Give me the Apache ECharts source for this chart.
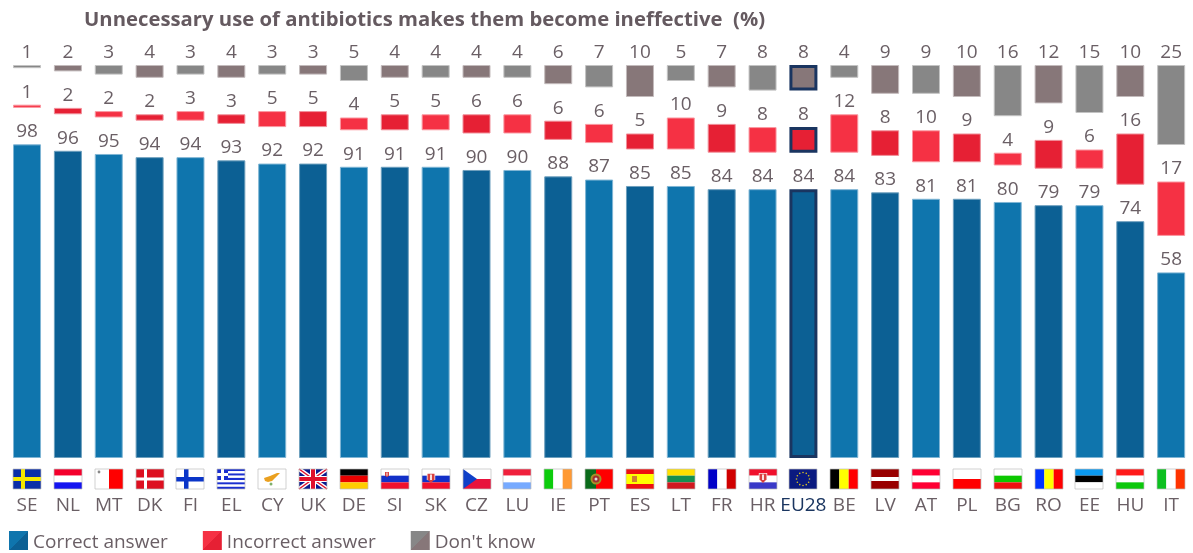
<!DOCTYPE html>
<html><head><meta charset="utf-8">
<style>html,body{margin:0;padding:0;background:#fff}#c{width:1193px;height:553px}</style>
<script src="https://cdn.jsdelivr.net/npm/echarts@6/dist/echarts.min.js"></script>
</head><body><div id="c"></div>
<script>
const categories=['SE','NL','MT','DK','FI','EL','CY','UK','DE','SI','SK','CZ','LU','IE','PT','ES','LT','FR','HR','EU28','BE','LV','AT','PL','BG','RO','EE','HU','IT'];
const correct=[98,96,95,94,94,93,92,92,91,91,91,90,90,88,87,85,85,84,84,84,84,83,81,81,80,79,79,74,58];
const incorrect=[1,2,2,2,3,3,5,5,4,5,5,6,6,6,6,5,10,9,8,8,12,8,10,9,4,9,6,16,17];
const dontKnow=[1,2,3,4,3,4,3,3,5,4,4,4,4,6,7,10,5,7,8,8,4,9,9,10,16,12,15,10,25];
const seriesNames=['Correct answer','Incorrect answer',"Don't know"];
const title='Unnecessary use of antibiotics makes them become ineffective  (%)';

const FONT='"Open Sans","Noto Sans",sans-serif', TXT='#6a5f65', NAVY='#1a3560';
const GAP=11.4;
const PAL=[['#0f75ad','#0c6094','#7fb5d4','#6d9fbd'],['#f53144','#e62034','#fa98a1','#f08f99'],['#878787','#877779','#c3c3c3','#c3bbbc']];
const W=28,HH=20;
const rect=(x,y,w,h,fill)=>({type:'rect',shape:{x,y,width:w,height:h},style:{fill}});
const H=(...c)=>c.map((f,i)=>rect(0,i*HH/c.length,W,HH/c.length,f));
const V=(...c)=>c.map((f,i)=>rect(i*W/c.length,0,W/c.length,HH,f));
const dot=(x,y,r,fill)=>({type:'circle',shape:{cx:x,cy:y,r},style:{fill}});
const ln=(x1,y1,x2,y2,stroke,lineWidth)=>({type:'line',shape:{x1,y1,x2,y2},style:{stroke,lineWidth}});
const poly=(points,fill)=>({type:'polygon',shape:{points},style:{fill}});
const crest=(x,y,s)=>[rect(x-3*s,y-3.5*s,6*s,5*s,'#fff'),poly([[x-2.5*s,y-3*s],[x+2.5*s,y-3*s],[x+2.5*s,y+1*s],[x,y+3.5*s],[x-2.5*s,y+1*s]],'#d8403f'),rect(x-.6*s,y-2.5*s,1.2*s,4*s,'#fff')];
const stars=()=>{const o=[rect(0,0,W,HH,'#0a1a80')];for(let k=0;k<12;k++){const a=k*Math.PI/6;o.push(dot(14+6.5*Math.cos(a),10+6.5*Math.sin(a),.8,'#d8c020'));}return o;};
const flags={
 SE:[rect(0,0,W,HH,'#0b2fa8'),rect(8,0,4,HH,'#f5e800'),rect(0,8,W,4,'#f5e800')],
 NL:H('#f4002c','#ffffff','#1414f0'),
 MT:[...V('#ffffff','#ff0000'),dot(4,3,1.4,'#888888')],
 DK:[rect(0,0,W,HH,'#dd1020'),rect(8,0,3,HH,'#fff'),rect(0,8.5,W,3,'#fff')],
 FI:[rect(0,0,W,HH,'#fff'),rect(8,0,4.5,HH,'#0a35c8'),rect(0,8,W,4.5,'#0a35c8')],
 EL:[...H('#1a2fd0','#fff','#1a2fd0','#fff','#1a2fd0','#fff','#1a2fd0','#fff','#1a2fd0'),rect(0,0,11,11,'#1a2fd0'),rect(4,0,3,11,'#fff'),rect(0,4,11,3,'#fff')],
 CY:[rect(0,0,W,HH,'#fff'),poly([[6,9],[12,7],[19,4],[22,4],[17,9],[14,12],[10,13],[7,12]],'#eaa020'),dot(13,15,1.5,'#7fb06a')],
 UK:[rect(0,0,W,HH,'#0a1a8e'),ln(0,0,W,HH,'#fff',4),ln(W,0,0,HH,'#fff',4),ln(0,0,W,HH,'#e0102c',1.5),ln(W,0,0,HH,'#e0102c',1.5),rect(11,0,6,HH,'#fff'),rect(0,7,W,6,'#fff'),rect(12,0,4,HH,'#e0102c'),rect(0,8,W,4,'#e0102c')],
 DE:H('#000000','#e80000','#ffcc00'),
 SI:[...H('#ffffff','#1230c8','#f0102c'),...crest(6,5.5,.8)],
 SK:[...H('#ffffff','#1230c8','#f0102c'),...crest(9,9,1.4)],
 CZ:[...H('#ffffff','#e8123c'),poly([[0,0],[14,10],[0,20]],'#1040c8')],
 LU:H('#f0203c','#ffffff','#77aaff'),
 IE:V('#0ccc0c','#ffffff','#ff9933'),
 PT:[rect(0,0,W,HH,'#ff0000'),rect(0,0,11,HH,'#0a6a1a'),dot(11,10,5.5,'#a89028'),dot(11,10,3.5,'#a03030'),dot(11,10,1.5,'#dddddd')],
 ES:[rect(0,0,W,HH,'#ee1010'),rect(0,5,W,10,'#ffff00'),rect(6,7,5,6,'#d08030')],
 LT:H('#ffe000','#159050','#d01820'),
 FR:V('#0000c8','#ffffff','#d00000'),
 HR:[...H('#f0102c','#ffffff','#3a3ac8'),...crest(14,9,1.4)],
 EU28:stars(),
 BE:V('#000000','#ffff00','#ff0000'),
 LV:[rect(0,0,W,HH,'#990000'),rect(0,8,W,4,'#fff')],
 AT:H('#ff0033','#ffffff','#ff0033'),
 PL:H('#ffffff','#ff0000'),
 BG:H('#ffffff','#0cc800','#ee1010'),
 RO:V('#0033ff','#ffff00','#ff0000'),
 EE:H('#0a99f0','#000000','#ffffff'),
 HU:H('#ff1a1a','#ffffff','#0cc80c'),
 IT:V('#0cc020','#ffffff','#ff3300')
};
const barData=(vals,p)=>vals.map((v,i)=>{
  const eu=categories[i]==='EU28';
  return {value:v,itemStyle:{color:PAL[p][i%2],borderColor:eu?NAVY:PAL[p][2+i%2],borderWidth:eu?3:1}};
});
const labelCfg=()=>({show:true,position:'top',distance:3,fontFamily:FONT,fontSize:19,color:TXT});
const barS=(name,vals,p)=>({name,type:'bar',stack:'s',barWidth:28,data:barData(vals,p),label:labelCfg(),silent:true});
const spacer=()=>({type:'bar',stack:'s',barWidth:28,data:categories.map(()=>GAP),itemStyle:{color:'transparent'},silent:true});
const legendIcon=p=>({color:{type:'linear',x:0,y:0,x2:1,y2:1,colorStops:[{offset:0,color:PAL[p][0]},{offset:.5,color:PAL[p][0]},{offset:.5,color:PAL[p][1]},{offset:1,color:PAL[p][1]}]},borderWidth:0});

const chart=echarts.init(document.getElementById('c'),null,{renderer:'canvas'});
chart.setOption({
  animation:false,backgroundColor:'#fff',
  title:{text:title,left:84,top:10,padding:0,textStyle:{fontFamily:FONT,fontWeight:'bold',fontSize:20.3,color:'#655a60'}},
  grid:{left:6.6,top:65,width:1185,height:393,containLabel:false},
  legend:{left:9,top:531,icon:'rect',selectedMode:false,itemWidth:19,itemHeight:19,itemGap:35,padding:0,
    formatter:n=>'{t|'+n+'}',
    textStyle:{fontFamily:FONT,fontSize:19,color:TXT,rich:{t:{fontFamily:FONT,fontSize:19,color:TXT,padding:[4,0,0,0]}}},
    data:seriesNames.map((n,p)=>({name:n,itemStyle:legendIcon(p)}))},
  xAxis:{type:'category',data:categories,axisLine:{show:false},axisTick:{show:false},
    axisLabel:{interval:0,margin:38,fontFamily:FONT,fontSize:19,color:v=>v==='EU28'?NAVY:TXT}},
  yAxis:{type:'value',min:0,max:100+2*GAP,show:false,splitLine:{show:false}},
  series:[
    barS(seriesNames[0],correct,0),spacer(),
    barS(seriesNames[1],incorrect,1),spacer(),
    barS(seriesNames[2],dontKnow,2),
    {type:'custom',silent:true,clip:false,data:categories.map((c,i)=>[i,0]),encode:{x:0,y:1},
     renderItem:(params,api)=>{
       const p=api.coord([api.value(0),0]);
       const cat=categories[api.value(0)];
       return {type:'group',x:Math.round(p[0]-W/2),y:p[1]+11,silent:true,children:[
         ...flags[cat],
         {type:'rect',shape:{x:0,y:0,width:W,height:HH},style:{fill:'none',stroke:'rgba(190,190,190,.7)',lineWidth:1}}
       ]};
     }}
  ]
});
</script></body></html>
